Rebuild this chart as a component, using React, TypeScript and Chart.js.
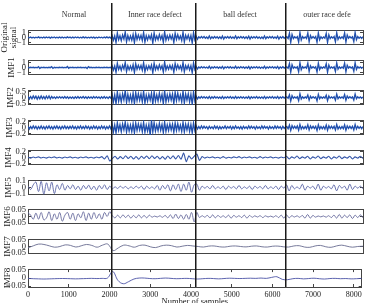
import React, { useEffect, useRef } from 'react';
import { Chart, registerables } from 'chart.js';

Chart.register(...registerables);

// ---------- data ----------
const TOTAL_SAMPLES = 8192;
const SEGMENT_BOUNDS = [2048, 4096, 6300];
const SEGMENT_NAMES = ['Normal', 'Inner race defect', 'ball defect', 'outer race defe'];
const SEGMENT_LABEL_POS = [1125, 3105, 5183, 7310];
const X_TICKS = [0, 1000, 2000, 3000, 4000, 5000, 6000, 7000, 8000];

const TICKS_ORIGINAL = [-1, 0, 1];
const TICKS_IMF1 = [-1, 0, 1];
const TICKS_IMF2 = [-0.5, 0, 0.5];
const TICKS_IMF3 = [-0.2, 0, 0.2];
const TICKS_IMF4 = [-0.2, 0, 0.2];
const TICKS_IMF5 = [-0.1, 0, 0.1];
const TICKS_IMF6 = [-0.05, 0, 0.05];
const TICKS_IMF7 = [-0.05, 0, 0.05];
const TICKS_IMF8 = [-0.05, 0, 0.05];

const ORIGINAL = [
  0.08,-0.06,0.1,-0.09,0.05,-0.11,0.07,-0.05,0.12,-0.08,0.06,-0.1,0.09,-0.07,0.11,-0.06,
  0.07,-0.12,0.08,-0.05,0.1,-0.09,0.06,-0.08,0.11,-0.07,0.09,-0.1,0.05,-0.08,0.12,-0.06,
  0.08,-0.1,0.07,-0.09,0.1,-0.06,0.09,-0.11,0.06,-0.08,0.12,-0.07,0.08,-0.1,0.06,-0.09,
  0.1,-0.07,0.08,-0.12,0.06,-0.09,0.11,-0.06,0.07,-0.1,0.09,-0.08,0.12,-0.07,0.08,-0.1,
  0.4,-0.55,0.3,-1.0,0.9,-0.45,0.35,-0.6,0.5,-0.3,1.1,-0.85,0.4,-0.5,0.3,-0.55,
  0.6,-1.05,0.8,-0.4,0.5,-0.35,0.45,-0.6,1.0,-0.9,0.35,-0.5,0.4,-0.3,0.55,-1.1,
  0.9,-0.5,0.3,-0.45,0.6,-0.35,0.4,-0.95,1.15,-0.55,0.35,-0.4,0.5,-0.3,0.45,-1.0,
  0.85,-0.4,0.55,-0.35,0.3,-0.6,1.05,-0.9,0.45,-0.3,0.5,-0.55,0.4,-1.1,0.95,-0.45,
  0.25,-0.35,0.15,-0.12,0.2,-0.1,0.18,-0.15,0.1,-0.2,0.3,-0.25,0.12,-0.15,0.2,-0.1,0.15,
  -0.18,0.12,-0.2,0.28,-0.3,0.15,-0.1,0.18,-0.12,0.2,-0.15,0.1,-0.18,0.3,-0.22,0.15,
  -0.12,0.2,-0.1,0.15,-0.18,0.12,-0.2,0.25,-0.32,0.18,-0.12,0.15,-0.1,0.2,-0.15,0.12,
  -0.18,0.1,-0.2,0.3,-0.25,0.15,-0.12,0.18,-0.1,0.2,-0.15,0.12,-0.18,0.28,-0.3,0.15,-0.12,0.2,-0.15,0.1,
  0.15,-0.2,0.85,-0.95,0.6,-0.2,0.15,
  -0.12,0.18,-0.9,1.0,-0.5,0.2,-0.15,
  0.12,-0.2,0.9,-0.85,0.4,-0.15,0.18,
  -0.12,0.2,-0.95,0.9,-0.45,0.15,-0.2,
  0.12,-0.15,0.8,-1.0,0.55,-0.2,0.15,
  -0.12,0.2,-0.85,0.95,-0.4,0.15,-0.18,
  0.12,-0.2,0.9,-0.9,0.5,-0.15,0.2,
  -0.12,0.15,-0.8,1.0,-0.45,0.2,-0.15,0.12,-0.2,0.15,
];

const IMF1 = [
  0.03,-0.04,0.05,-0.03,0.04,-0.05,0.03,-0.04,0.18,-0.2,0.04,-0.03,0.05,-0.04,0.03,-0.05,
  0.04,-0.03,0.15,-0.18,0.05,-0.04,0.03,-0.05,0.04,-0.03,0.05,-0.04,0.03,-0.05,0.2,-0.15,
  0.04,-0.03,0.05,-0.04,0.03,-0.05,0.04,-0.03,0.05,-0.04,0.03,-0.05,0.04,-0.2,0.16,-0.03,
  0.05,-0.04,0.03,-0.05,0.04,-0.03,0.05,-0.04,0.03,-0.05,0.04,-0.03,0.05,-0.04,0.03,-0.04,
  0.35,-0.5,0.3,-0.95,0.85,-0.4,0.3,-0.55,0.45,-0.3,1.0,-0.8,0.35,-0.45,0.3,-0.5,
  0.55,-1.0,0.75,-0.35,0.45,-0.3,0.4,-0.55,0.95,-0.85,0.3,-0.45,0.35,-0.3,0.5,-1.05,
  0.85,-0.45,0.3,-0.4,0.55,-0.3,0.35,-0.9,1.1,-0.5,0.3,-0.35,0.45,-0.3,0.4,-0.95,
  0.8,-0.35,0.5,-0.3,0.3,-0.55,1.0,-0.85,0.4,-0.3,0.45,-0.5,0.35,-1.05,0.9,-0.4,
  0.2,-0.3,0.12,-0.1,0.15,-0.08,0.12,-0.1,0.08,-0.15,0.25,-0.2,0.1,-0.12,0.15,-0.08,0.12,
  -0.15,0.1,-0.15,0.22,-0.25,0.12,-0.08,0.15,-0.1,0.15,-0.12,0.08,-0.15,0.25,-0.18,0.12,
  -0.1,0.15,-0.08,0.12,-0.15,0.1,-0.15,0.2,-0.28,0.15,-0.1,0.12,-0.08,0.15,-0.12,0.1,
  -0.15,0.08,-0.15,0.25,-0.2,0.12,-0.1,0.15,-0.08,0.15,-0.12,0.1,-0.15,0.22,-0.25,0.12,-0.1,0.15,-0.12,0.08,
  0.12,-0.15,0.8,-0.9,0.55,-0.15,0.12,
  -0.1,0.15,-0.85,0.95,-0.45,0.15,-0.12,
  0.1,-0.15,0.85,-0.8,0.35,-0.12,0.15,
  -0.1,0.15,-0.9,0.85,-0.4,0.12,-0.15,
  0.1,-0.12,0.75,-0.95,0.5,-0.15,0.12,
  -0.1,0.15,-0.8,0.9,-0.35,0.12,-0.15,
  0.1,-0.15,0.85,-0.85,0.45,-0.12,0.15,
  -0.1,0.12,-0.75,0.95,-0.4,0.15,-0.12,0.1,-0.15,0.12,
];

const IMF2 = [
  0.1,-0.12,0.08,-0.1,0.12,-0.07,0.1,-0.13,0.08,-0.1,0.12,-0.09,0.07,-0.11,0.1,-0.08,
  0.12,-0.1,0.08,-0.06,0.05,-0.07,0.06,-0.05,0.07,-0.04,0.05,-0.06,0.08,-0.05,0.06,-0.07,
  0.05,-0.06,0.04,-0.07,0.06,-0.05,0.08,-0.06,0.05,-0.04,0.07,-0.06,0.05,-0.08,0.06,-0.05,
  0.04,-0.06,0.07,-0.05,0.06,-0.04,0.05,-0.07,0.06,-0.05,0.08,-0.06,0.05,-0.07,0.06,-0.05,
  0.25,-0.35,0.2,-0.5,0.45,-0.3,0.22,-0.35,0.3,-0.2,0.55,-0.4,0.25,-0.3,0.2,-0.35,
  0.35,-0.5,0.4,-0.25,0.3,-0.22,0.28,-0.35,0.5,-0.45,0.2,-0.3,0.25,-0.2,0.35,-0.55,
  0.45,-0.3,0.2,-0.28,0.35,-0.22,0.25,-0.5,0.55,-0.35,0.22,-0.25,0.3,-0.2,0.28,-0.5,
  0.42,-0.25,0.35,-0.22,0.2,-0.35,0.5,-0.45,0.28,-0.2,0.3,-0.35,0.25,-0.55,0.45,-0.28,
  0.1,-0.12,0.05,-0.06,0.07,-0.04,0.06,-0.05,0.04,-0.07,0.09,-0.08,0.05,-0.06,0.07,-0.04,0.05,
  -0.06,0.04,-0.07,0.08,-0.09,0.05,-0.04,0.06,-0.05,0.07,-0.06,0.04,-0.07,0.09,-0.07,0.05,
  -0.04,0.06,-0.05,0.05,-0.07,0.04,-0.06,0.08,-0.1,0.06,-0.04,0.05,-0.04,0.07,-0.06,0.04,
  -0.06,0.05,-0.07,0.09,-0.08,0.05,-0.04,0.06,-0.05,0.07,-0.06,0.04,-0.06,0.08,-0.09,0.05,-0.04,0.06,-0.05,0.04,
  0.05,-0.06,0.22,-0.28,0.15,-0.06,0.05,
  -0.04,0.06,-0.25,0.3,-0.12,0.05,-0.06,
  0.04,-0.05,0.2,-0.22,0.1,-0.05,0.06,
  -0.04,0.05,-0.28,0.25,-0.1,0.05,-0.06,
  0.04,-0.05,0.18,-0.25,0.12,-0.06,0.05,
  -0.04,0.06,-0.22,0.26,-0.1,0.05,-0.05,
  0.04,-0.06,0.24,-0.22,0.12,-0.05,0.06,
  -0.04,0.05,-0.2,0.27,-0.1,0.06,-0.05,0.04,-0.06,0.05,
];

const IMF3 = [
  0.04,-0.05,0.03,-0.04,0.05,-0.03,0.04,-0.05,0.03,-0.04,0.05,-0.04,0.03,-0.05,0.04,-0.03,
  0.05,-0.04,0.03,-0.05,0.04,-0.03,0.05,-0.04,0.03,-0.05,0.04,-0.03,0.05,-0.04,0.03,-0.04,
  0.04,-0.03,0.05,-0.04,0.03,-0.05,0.04,-0.03,0.05,-0.04,0.03,-0.04,0.05,-0.03,0.04,-0.05,
  0.03,-0.04,0.05,-0.03,0.04,-0.05,0.03,-0.04,0.05,-0.03,0.04,-0.05,0.03,-0.04,0.05,-0.04,
  0.12,-0.15,0.08,-0.18,0.16,-0.1,0.09,-0.14,0.12,-0.08,0.18,-0.15,0.1,-0.12,0.08,-0.14,
  0.13,-0.18,0.15,-0.1,0.12,-0.08,0.11,-0.14,0.17,-0.16,0.08,-0.12,0.1,-0.26,0.24,-0.15,
  0.16,-0.12,0.08,-0.11,0.14,-0.09,0.1,-0.17,0.18,-0.13,0.09,-0.1,0.12,-0.08,0.11,-0.16,
  0.15,-0.1,0.13,-0.09,0.08,-0.13,0.17,-0.15,0.11,-0.08,0.12,-0.13,0.1,-0.18,0.15,-0.1,
  0.06,-0.05,0.03,-0.04,0.05,-0.03,0.04,-0.02,0.03,-0.05,0.04,-0.03,0.02,-0.04,0.05,-0.03,0.04,
  -0.05,0.03,-0.04,0.02,-0.03,0.05,-0.04,0.03,-0.02,0.04,-0.05,0.03,-0.04,0.05,-0.03,0.02,
  -0.04,0.03,-0.05,0.04,-0.03,0.02,-0.04,0.05,-0.03,0.04,-0.02,0.03,-0.05,0.04,-0.03,0.02,
  -0.04,0.05,-0.03,0.04,-0.02,0.03,-0.05,0.04,-0.03,0.02,-0.04,0.05,-0.03,0.04,-0.02,0.03,-0.05,0.04,-0.03,0.02,
  0.03,-0.04,0.08,-0.1,0.06,-0.03,0.04,
  -0.03,0.05,-0.09,0.1,-0.05,0.03,-0.04,
  0.03,-0.04,0.09,-0.08,0.05,-0.03,0.04,
  -0.03,0.04,-0.1,0.09,-0.05,0.03,-0.04,
  0.03,-0.05,0.08,-0.09,0.06,-0.03,0.04,
  -0.03,0.04,-0.08,0.1,-0.05,0.03,-0.04,
  0.03,-0.04,0.09,-0.09,0.05,-0.03,0.04,
  -0.03,0.04,-0.08,0.1,-0.05,0.04,-0.03,0.03,-0.04,0.03,
];

const IMF4 = [
  0.01,-0.02,0.015,-0.01,0.02,-0.015,0.01,-0.02,0.015,-0.01,0.02,-0.015,0.01,-0.02,0.015,-0.01,
  0.02,-0.015,0.01,-0.02,0.015,-0.01,0.02,-0.015,0.01,-0.02,0.015,-0.01,0.03,-0.05,0.06,-0.12,
  -0.03,0.04,-0.05,0.03,-0.04,0.06,-0.03,0.04,-0.05,0.03,-0.06,0.04,-0.03,0.05,-0.04,0.06,
  -0.03,0.04,-0.05,0.03,-0.06,0.05,-0.04,0.06,-0.05,0.07,-0.06,0.15,-0.14,0.06,-0.05,0.04,
  0.12,-0.1,0.03,-0.02,0.015,-0.01,0.02,-0.015,0.01,-0.02,0.03,-0.02,0.01,-0.015,0.02,-0.01,0.03,
  -0.02,0.015,-0.01,0.02,-0.015,0.01,-0.02,0.03,-0.02,0.015,-0.01,0.02,-0.015,0.01,-0.02,0.015,-0.01,
  0.04,-0.05,0.02,-0.02,0.05,-0.04,0.02,-0.02,0.04,-0.05,0.02,-0.02,0.05,-0.04,0.02,
  -0.02,0.04,-0.05,0.02,-0.02,0.05,-0.04,0.02,-0.02,0.04,-0.05,0.02,-0.02,0.04,-0.03,
];

const IMF5 = [
  0.02,-0.03,0.04,0.08,-0.06,0.09,-0.1,0.07,-0.05,0.08,-0.09,0.04,-0.03,0.06,-0.04,0.03,
  -0.02,0.04,-0.03,0.02,-0.04,0.03,-0.02,0.035,-0.03,0.02,-0.04,0.03,-0.02,0.04,-0.03,0.02,
  -0.02,0.01,-0.015,0.02,-0.01,0.015,-0.02,0.01,-0.015,0.02,-0.01,0.02,-0.03,0.02,-0.015,0.01,
  -0.02,0.03,-0.04,0.03,-0.02,0.04,-0.05,0.04,-0.03,0.05,-0.06,0.05,-0.04,0.08,-0.07,0.04,
  0.05,-0.04,0.02,-0.01,0.015,-0.02,0.03,-0.02,0.01,-0.015,0.02,-0.03,0.02,-0.01,0.015,-0.02,0.03,
  -0.02,0.01,-0.015,0.02,-0.03,0.02,-0.01,0.015,-0.02,0.03,-0.02,0.01,-0.015,0.02,-0.03,0.02,-0.01,
  0.04,-0.05,0.03,-0.02,0.01,-0.02,0.05,-0.04,0.02,-0.01,0.02,-0.03,0.05,-0.04,0.02,
  -0.01,0.015,-0.02,0.04,-0.05,0.03,-0.01,0.02,-0.04,0.05,-0.03,0.02,-0.01,0.02,-0.02,
];

const IMF6 = [
  0.03,0.01,-0.02,0.025,-0.02,0.03,-0.025,-0.01,0.035,-0.03,0.02,-0.02,0.03,-0.035,0.01,0.03,
  -0.02,0.025,-0.03,0.02,-0.01,0.035,-0.03,0.025,-0.02,0.03,-0.015,0.02,-0.02,0.03,0.0,0.035,
  0.005,-0.01,0.01,-0.01,0.012,-0.008,0.01,-0.012,0.008,-0.01,0.012,-0.01,0.008,-0.01,0.01,-0.005,
  0.003,-0.004,0.005,-0.006,0.008,-0.01,0.012,-0.015,0.018,-0.015,0.012,-0.02,0.015,-0.02,0.03,-0.04,
  0.03,-0.008,0.006,-0.005,0.008,-0.01,0.012,-0.01,0.008,-0.006,0.005,-0.008,0.01,-0.012,0.008,-0.005,0.006,
  -0.008,0.01,-0.012,0.008,-0.006,0.005,-0.004,0.006,-0.008,0.005,-0.004,0.003,-0.005,0.006,-0.008,0.01,-0.012,
  0.012,-0.01,0.006,-0.004,0.005,-0.006,0.008,-0.012,0.015,-0.012,0.008,-0.005,0.004,-0.003,0.004,
  -0.005,0.006,-0.008,0.01,-0.012,0.015,-0.012,0.01,-0.008,0.012,-0.015,0.01,-0.008,0.012,-0.01,
];

const IMF7 = [
  -0.01,0.005,0.018,0.015,0.005,-0.005,0.0,0.012,0.008,-0.004,0.005,0.015,0.008,-0.005,0.01,0.018,
  -0.03,-0.01,0.01,0.005,-0.005,0.008,0.01,-0.002,-0.008,0.004,0.01,0.006,-0.004,0.002,0.008,0.004,
  0.0,-0.004,0.003,0.004,-0.002,-0.004,0.002,0.004,0.0,-0.003,0.002,0.004,-0.002,-0.004,0.002,0.003,-0.002,
  -0.004,0.004,0.006,-0.004,-0.006,0.004,0.008,-0.002,-0.006,0.004,0.01,0.002,-0.005,0.0,0.002,
];

const IMF8 = [
  -0.002,-0.004,-0.005,-0.006,-0.005,-0.004,-0.003,-0.003,-0.004,-0.005,-0.004,-0.003,-0.002,-0.003,-0.002,0.0,
  0.04,-0.015,-0.035,-0.022,-0.006,0.0,0.0,-0.003,-0.004,-0.002,0.0,-0.002,-0.004,-0.003,-0.002,-0.004,
  -0.006,-0.004,-0.002,-0.003,-0.005,-0.003,-0.001,-0.002,-0.003,-0.002,-0.001,-0.002,0.0,-0.002,0.004,0.008,-0.008,
  -0.01,-0.004,-0.002,-0.005,-0.003,-0.001,-0.004,-0.006,-0.003,-0.002,-0.004,-0.003,-0.005,-0.004,-0.002,
];

// ---------- styling / layout ----------
const W = 368;
const H = 303;
const AXIS_W = 28;
const RIGHT_W = 5;
const BOX_H = 21;
const FIRST_TOP = 27;
const STEP = 29.9;
const PAD = 7;
const BOTTOM_AXIS_H = 20;
const TITLE_CANVAS_H = 27;
const FONT_FAMILY = '"Liberation Serif", "Times New Roman", serif';
const TEXT_COLOR = '#222';
const BOX_COLOR = '#444';
const DENSE = '#2150ae';

const PANELS = [
  { name: ['Original', 'signal'], values: ORIGINAL, range: 1.5, ticks: TICKS_ORIGINAL, color: DENSE, width: 1.35, tension: 0, titlePad: 0.5 },
  { name: 'IMF1', values: IMF1, range: 1.5, ticks: TICKS_IMF1, color: DENSE, width: 1.35, tension: 0, titlePad: 7 },
  { name: 'IMF2', values: IMF2, range: 0.6, ticks: TICKS_IMF2, color: DENSE, width: 1.35, tension: 0, titlePad: 6 },
  { name: 'IMF3', values: IMF3, range: 0.25, ticks: TICKS_IMF3, color: DENSE, width: 1.35, tension: 0, titlePad: 5.5 },
  { name: 'IMF4', values: IMF4, range: 0.25, ticks: TICKS_IMF4, color: '#3556a8', width: 1.1, tension: 0.2, titlePad: 4.5 },
  { name: 'IMF5', values: IMF5, range: 0.11, ticks: TICKS_IMF5, color: '#5a64a6', width: 0.9, tension: 0.35, titlePad: 4 },
  { name: 'IMF6', values: IMF6, range: 0.055, ticks: TICKS_IMF6, color: '#65699c', width: 0.9, tension: 0.35, titlePad: 3 },
  { name: 'IMF7', values: IMF7, range: 0.055, ticks: TICKS_IMF7, color: '#686b90', width: 0.9, tension: 0.4, titlePad: 3 },
  { name: 'IMF8', values: IMF8, range: 0.055, ticks: TICKS_IMF8, color: '#4b52a6', width: 0.9, tension: 0.4, titlePad: 3 },
];

const panelTop = (i: number) => Math.round(FIRST_TOP + i * STEP);
const lastIdx = PANELS.length - 1;
const canvasHeight = (i: number) => (i === lastIdx ? PAD + BOX_H + BOTTOM_AXIS_H : PAD + BOX_H + PAD);

const tickFont = { family: FONT_FAMILY, size: 8.5, lineHeight: 1.2 };
const titleFont = { family: FONT_FAMILY, size: 9, lineHeight: 0.95 };
const fmt = (v: number) => (v < 0 ? '\u2212' + String(-v) : String(v));
const noPlugins = { legend: { display: false }, tooltip: { enabled: false }, title: { display: false } };

function panelConfig(i: number): any {
  const p = PANELS[i];
  const isLast = i === lastIdx;
  const n = p.values.length;
  const setY = (s: any) => { s.ticks = p.ticks.map((v) => ({ value: v })); };
  const setX = (s: any) => { s.ticks = X_TICKS.map((v) => ({ value: v })); };
  return {
    type: 'line',
    data: {
      datasets: [{
        data: p.values.map((v, k) => ({ x: (k * TOTAL_SAMPLES) / (n - 1), y: v })),
        borderColor: p.color,
        borderWidth: p.width,
        pointRadius: 0,
        tension: p.tension,
        fill: false,
      }],
    },
    options: {
      animation: false,
      responsive: false,
      events: [],
      layout: { padding: { top: PAD, bottom: isLast ? 0 : PAD, left: 0, right: 0 } },
      plugins: noPlugins,
      scales: {
        x: {
          type: 'linear', position: 'bottom', min: 0, max: TOTAL_SAMPLES,
          afterBuildTicks: setX,
          ticks: { display: isLast, autoSkip: false, maxRotation: 0, padding: 6, font: { ...tickFont, size: 8 }, color: TEXT_COLOR, callback: (v: number) => String(v) },
          grid: { display: true, drawOnChartArea: false, drawTicks: isLast, tickLength: -3, color: BOX_COLOR },
          border: { display: true, color: BOX_COLOR, width: 1 },
          title: { display: isLast, text: 'Number of samples', font: { ...tickFont, size: 8.5 }, color: TEXT_COLOR, padding: { top: 0, bottom: 0 } },
          afterFit: (s: any) => { s.height = isLast ? BOTTOM_AXIS_H : 0; },
        },
        xTop: {
          type: 'linear', axis: 'x', position: 'top', min: 0, max: TOTAL_SAMPLES,
          afterBuildTicks: setX,
          ticks: { display: false },
          grid: { display: true, drawOnChartArea: false, drawTicks: isLast, tickLength: -3, color: BOX_COLOR },
          border: { display: true, color: BOX_COLOR, width: 1 },
          afterFit: (s: any) => { s.height = 0; },
        },
        y: {
          type: 'linear', position: 'left', min: -p.range, max: p.range,
          afterBuildTicks: setY,
          ticks: { autoSkip: false, font: tickFont, color: TEXT_COLOR, padding: 5, callback: (v: number) => fmt(v) },
          grid: { display: true, drawOnChartArea: false, drawTicks: true, tickLength: -3, color: BOX_COLOR },
          border: { display: true, color: BOX_COLOR, width: 1 },
          title: { display: true, text: p.name, font: titleFont, color: TEXT_COLOR, padding: { top: p.titlePad, bottom: 0 } },
          afterFit: (s: any) => { s.width = AXIS_W; },
        },
        yRight: {
          type: 'linear', axis: 'y', position: 'right', min: -p.range, max: p.range,
          afterBuildTicks: setY,
          ticks: { display: false },
          grid: { display: true, drawOnChartArea: false, drawTicks: true, tickLength: -3, color: BOX_COLOR },
          border: { display: true, color: BOX_COLOR, width: 1 },
          afterFit: (s: any) => { s.width = RIGHT_W; },
        },
      },
    },
  };
}

function titlesConfig(): any {
  return {
    type: 'line',
    data: { datasets: [{ data: [], pointRadius: 0 }] },
    options: {
      animation: false,
      responsive: false,
      events: [],
      layout: { padding: { left: AXIS_W, right: RIGHT_W, top: 0, bottom: 0 } },
      plugins: noPlugins,
      scales: {
        x: {
          type: 'linear', position: 'bottom', min: 0, max: TOTAL_SAMPLES,
          afterBuildTicks: (s: any) => { s.ticks = SEGMENT_LABEL_POS.map((v) => ({ value: v })); },
          ticks: {
            display: true, autoSkip: false, maxRotation: 0, minRotation: 0, padding: 5,
            font: { family: FONT_FAMILY, size: 8, lineHeight: 1.2 }, color: '#333',
            callback: (_v: number, idx: number) => SEGMENT_NAMES[idx],
          },
          grid: { display: false, drawTicks: false },
          border: { display: false },
          afterFit: (s: any) => { s.height = 22; },
        },
        y: { display: false, min: 0, max: 1 },
      },
    },
  };
}

function overlayConfig(): any {
  const bottom = panelTop(lastIdx) + BOX_H;
  return {
    type: 'line',
    data: { datasets: [] },
    options: {
      animation: false,
      responsive: false,
      events: [],
      layout: { padding: { left: AXIS_W, right: RIGHT_W, top: 3, bottom: H - bottom } },
      plugins: noPlugins,
      scales: {
        x: {
          type: 'linear', position: 'bottom', min: 0, max: TOTAL_SAMPLES,
          afterBuildTicks: (s: any) => { s.ticks = SEGMENT_BOUNDS.map((v) => ({ value: v })); },
          ticks: { display: false },
          grid: { display: true, drawOnChartArea: true, drawTicks: false, color: '#1a1a1a', lineWidth: 1.5 },
          border: { display: false },
          afterFit: (s: any) => { s.height = 0; },
        },
        y: { display: false, min: 0, max: 1 },
      },
    },
  };
}

export default function App() {
  const panelRefs = useRef<(HTMLCanvasElement | null)[]>([]);
  const titlesRef = useRef<HTMLCanvasElement | null>(null);
  const overlayRef = useRef<HTMLCanvasElement | null>(null);

  useEffect(() => {
    const charts: Chart[] = [];
    if (titlesRef.current) charts.push(new Chart(titlesRef.current, titlesConfig()));
    PANELS.forEach((_p, i) => {
      const c = panelRefs.current[i];
      if (c) charts.push(new Chart(c, panelConfig(i)));
    });
    if (overlayRef.current) charts.push(new Chart(overlayRef.current, overlayConfig()));
    return () => charts.forEach((c) => c.destroy());
  }, []);

  return (
    <div style={{ position: 'fixed', left: 0, top: 0, width: W, height: H, background: '#fff', overflow: 'hidden' }}>
      <canvas
        ref={titlesRef}
        width={W}
        height={TITLE_CANVAS_H}
        style={{ position: 'absolute', left: 0, top: 0, width: W, height: TITLE_CANVAS_H }}
      />
      {PANELS.map((_p, i) => {
        const h = canvasHeight(i);
        return (
          <canvas
            key={i}
            ref={(el) => { panelRefs.current[i] = el; }}
            width={W}
            height={h}
            style={{ position: 'absolute', left: 0, top: panelTop(i) - PAD, width: W, height: h }}
          />
        );
      })}
      <canvas
        ref={overlayRef}
        width={W}
        height={H}
        style={{ position: 'absolute', left: 0, top: 0, width: W, height: H }}
      />
    </div>
  );
}
